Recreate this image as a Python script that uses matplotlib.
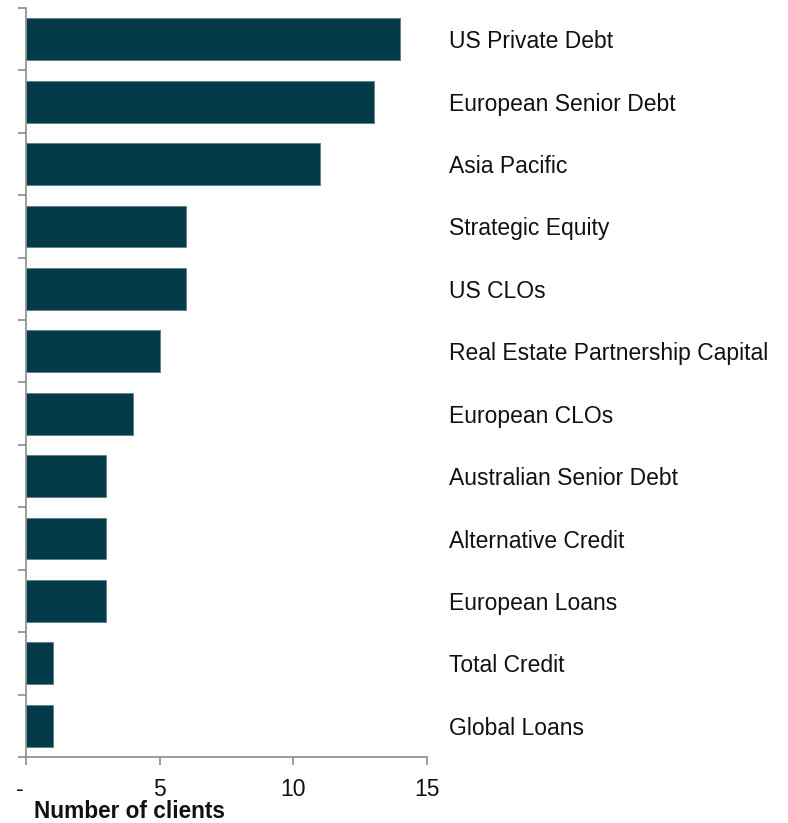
import matplotlib
matplotlib.use("Agg")
import matplotlib.pyplot as plt
import numpy as np

plt.rcParams['font.family'] = ['Liberation Sans', 'DejaVu Sans']

categories = [
    "US Private Debt",
    "European Senior Debt",
    "Asia Pacific",
    "Strategic Equity",
    "US CLOs",
    "Real Estate Partnership Capital",
    "European CLOs",
    "Australian Senior Debt",
    "Alternative Credit",
    "European Loans",
    "Total Credit",
    "Global Loans",
]
clients = [14, 13, 11, 6, 6, 5, 4, 3, 3, 3, 1, 1]
x_ticks = [0, 5, 10, 15]
x_tick_labels = ["-  ", "5", "10", "15"]

bar_color = "#033B48"
axis_color = "#8C8C8C"

fig = plt.figure(figsize=(7.88, 8.23), dpi=100)
ax = fig.add_axes([0.033, 0.0802, 0.5089, 0.9101])

y = np.arange(len(categories))
ax.barh(y, clients, height=0.67, color=bar_color, edgecolor="#5F7F87", linewidth=0.6)

ax.set_xlim(0, 15)
ax.set_ylim(len(categories) - 0.5, -0.5)

# category labels sit to the right of the plotting area
for yi, name in zip(y, categories):
    ax.text(15.82, yi + 0.04, name, va="center", ha="left", fontsize=16.5, color="#111111",
            clip_on=False)

for side in ("top", "right"):
    ax.spines[side].set_visible(False)
for side in ("left", "bottom"):
    ax.spines[side].set_color(axis_color)
    ax.spines[side].set_linewidth(1.2)

ax.set_xticks(x_ticks)
ax.set_xticklabels(x_tick_labels, fontsize=16.5)
ax.tick_params(axis="x", direction="out", length=6, width=1.2, color=axis_color, pad=9,
               labelcolor="#111111")

# y ticks at the boundaries between categories
ax.set_yticks([])
ax.set_yticks(np.arange(-0.5, len(categories) - 0.5 + 0.01, 1.0), minor=True)
ax.tick_params(axis="y", which="minor", direction="out", length=6, width=1.2,
               color=axis_color, labelleft=False)

fig.text(34 / 788, 1 - 812 / 823, "Number of clients", fontsize=16.3, fontweight="bold",
         ha="left", va="center", color="#111111")

fig.savefig("out.png", dpi=100)
